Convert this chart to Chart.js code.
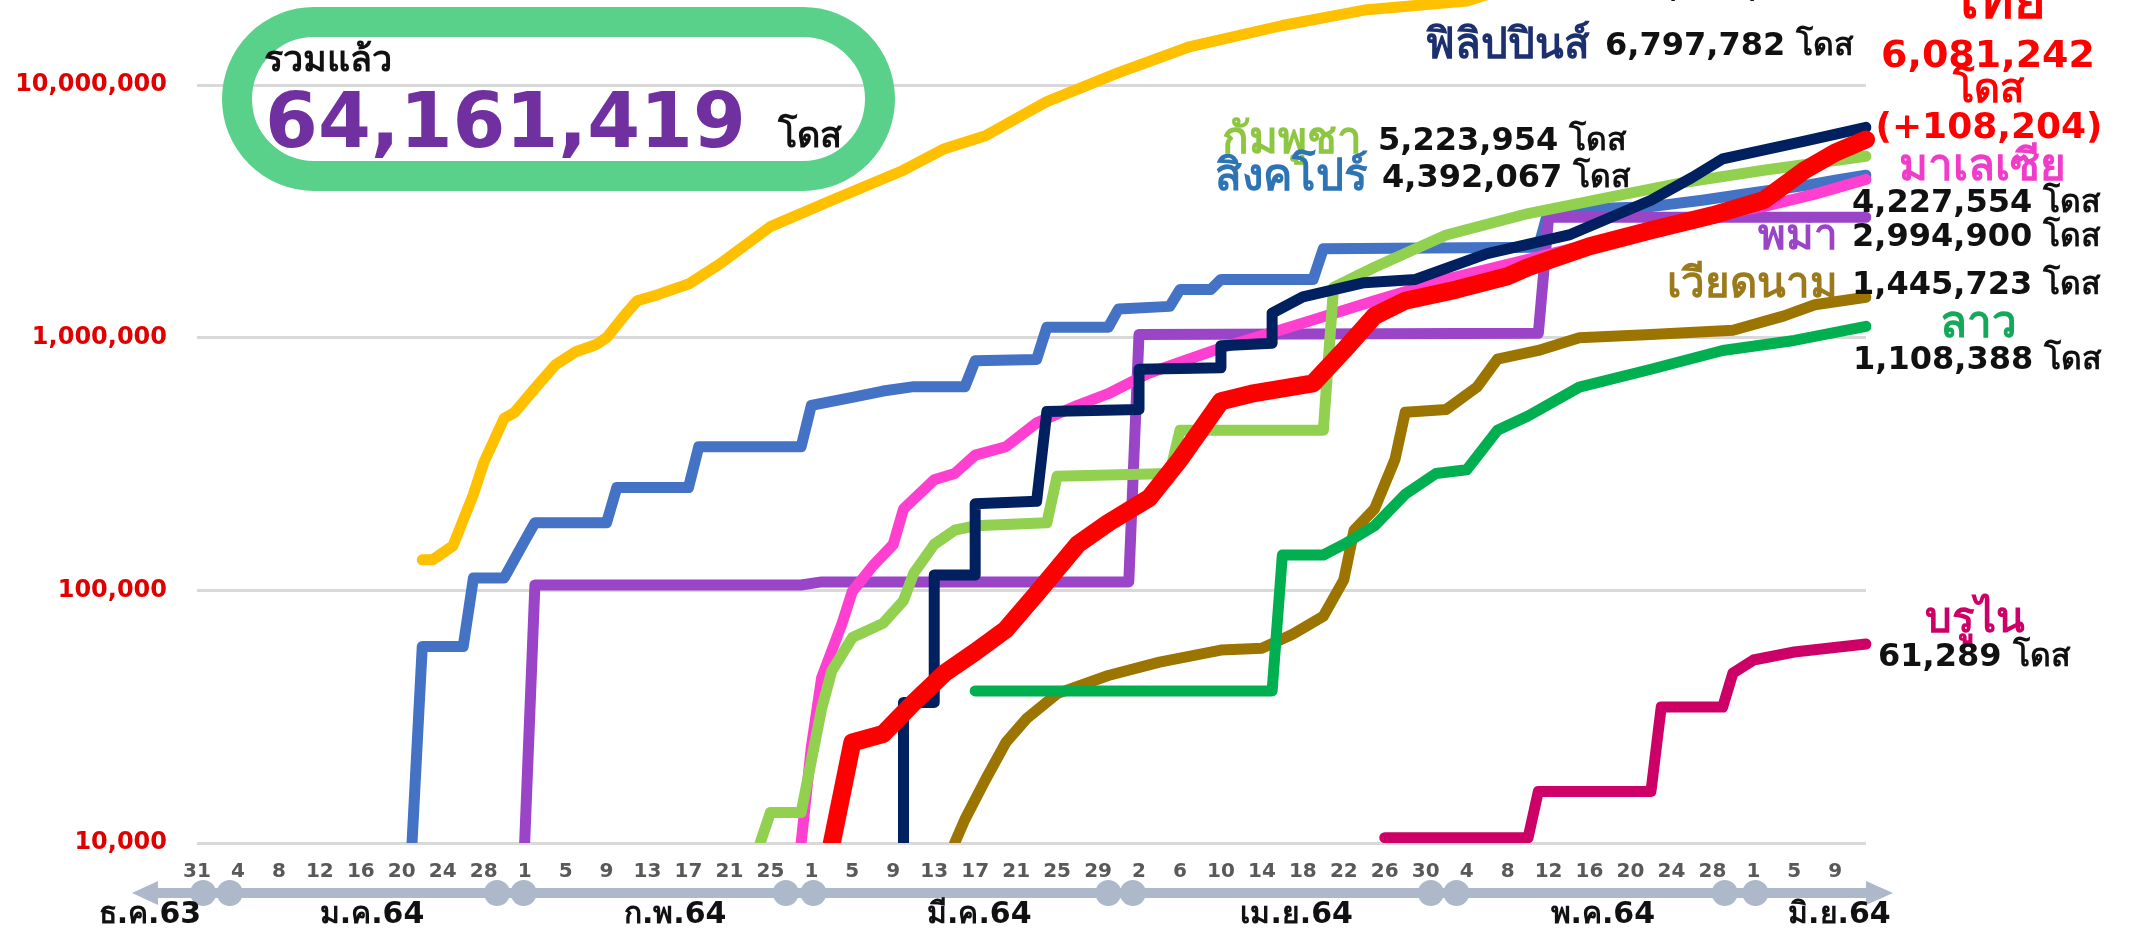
<!DOCTYPE html>
<html>
<head>
<meta charset="utf-8">
<script src="https://cdn.jsdelivr.net/npm/chart.js@4.4.0/dist/chart.umd.min.js"></script>
<style>
  html, body { margin: 0; padding: 0; background: #fff; }
  canvas { display: block; }
</style>
</head>
<body>
<canvas id="myChart" width="2129" height="930"></canvas>
<script>
// daily categories, 31 Dec 2020 .. 12 Jun 2021
const categories = [];
for (let d = new Date(2020, 11, 31); d <= new Date(2021, 5, 12); d.setDate(d.getDate() + 1)) {
  categories.push((d.getMonth() + 1) + "/" + d.getDate());
}
const tickLabels = ["31", "4", "8", "12", "16", "20", "24", "28",
  "1", "5", "9", "13", "17", "21", "25",
  "1", "5", "9", "13", "17", "21", "25", "29",
  "2", "6", "10", "14", "18", "22", "26", "30",
  "4", "8", "12", "16", "20", "24", "28",
  "1", "5", "9"];
const monthLabels = ["ธ.ค.63", "ม.ค.64", "ก.พ.64", "มี.ค.64", "เม.ย.64", "พ.ค.64", "มิ.ย.64"];
const yTicks = [10000, 100000, 1000000, 10000000];

// cumulative doses
const indonesiaDates = ["1/22","1/23","1/25","1/27","1/28","1/30","1/31","2/2","2/4","2/6","2/8","2/9","2/11","2/12","2/14","2/17","2/20","2/25","3/3","3/10","3/14","3/18","3/24","3/31","4/7","4/16","4/24","5/4","5/7","5/20","6/12"];
const indonesiaVals = [132000,132000,150000,240000,320000,480000,505000,630000,780000,880000,940000,1000000,1260000,1400000,1480000,1630000,1950000,2750000,3500000,4600000,5600000,6300000,8600000,11200000,14200000,17200000,19800000,21500000,23500000,27000000,31828520];

const singaporeDates = ["1/21","1/22","1/26","1/27","1/30","2/1","2/2","2/9","2/10","2/17","2/18","2/28","3/1","3/3","3/5","3/8","3/11","3/16","3/17","3/23","3/24","3/30","3/31","4/5","4/6","4/9","4/10","4/19","4/20","5/11","5/12","5/22","5/27","6/1","6/6","6/9","6/12"];
const singaporeVals = [10000,60000,60000,112000,112000,157000,185000,185000,255000,255000,370000,370000,540000,560000,580000,615000,640000,640000,810000,820000,1100000,1100000,1300000,1330000,1550000,1550000,1700000,1700000,2250000,2280000,3200000,3300000,3500000,3750000,4000000,4200000,4392067];

const myanmarDates = ["2/1","2/2","2/28","3/2","4/1","4/2","5/11","5/12","6/12"];
const myanmarVals = [10000,105000,105000,108000,108000,1030000,1040000,2994900,2994900];

const cambodiaDates = ["2/24","2/25","2/28","3/2","3/3","3/5","3/8","3/10","3/11","3/13","3/15","3/17","3/24","3/25","4/5","4/6","4/20","4/21","4/25","5/2","5/10","5/18","5/25","6/2","6/12"];
const cambodiaVals = [10000,13200,13200,34000,48000,65000,74000,91000,117000,152000,173000,180000,185000,283000,290000,430000,430000,1580000,1900000,2550000,3100000,3600000,4100000,4600000,5223954];

const malaysiaDates = ["2/28","3/1","3/2","3/4","3/5","3/7","3/9","3/10","3/13","3/15","3/17","3/20","3/23","3/27","3/30","4/3","4/10","4/17","4/25","5/2","5/10","5/18","5/25","6/2","6/7","6/12"];
const malaysiaVals = [10000,24000,45000,74000,99000,125000,152000,210000,274000,290000,343000,370000,460000,540000,600000,725000,910000,1110000,1400000,1700000,2040000,2450000,2900000,3300000,3700000,4227554];

// the Philippines line jumps straight up on delivery days, so some dates appear twice
const philippinesDates = ["3/10","3/10","3/13","3/13","3/17","3/17","3/23","3/24","4/2","4/2","4/10","4/10","4/15","4/15","4/18","4/24","4/29","5/6","5/14","5/22","5/26","5/29","6/6","6/12"];
const philippinesVals = [10000,36000,36000,115000,115000,220000,225000,510000,520000,750000,760000,930000,950000,1250000,1450000,1650000,1700000,2150000,2550000,3500000,4300000,5100000,6000000,6797782];

const thailandDates = ["3/3","3/5","3/8","3/11","3/14","3/17","3/20","3/23","3/27","3/30","4/3","4/6","4/10","4/13","4/19","4/22","4/25","4/28","5/3","5/8","5/10","5/16","5/22","5/28","6/2","6/6","6/9","6/12"];
const thailandVals = [10000,25000,27000,36000,47000,57000,70000,97000,152000,185000,232000,330000,560000,600000,660000,890000,1220000,1400000,1550000,1750000,1900000,2300000,2660000,3050000,3500000,4600000,5400000,6081242];
const thailandDailyIncrease = 108204;

const vietnamDates = ["3/15","3/16","3/18","3/20","3/22","3/25","3/30","4/4","4/10","4/14","4/17","4/20","4/22","4/23","4/25","4/27","4/28","5/2","5/5","5/7","5/11","5/15","5/22","5/30","6/4","6/7","6/12"];
const vietnamVals = [10000,12400,17800,25000,31000,39000,46000,52000,58000,59000,67000,79000,110000,173000,210000,330000,507000,520000,637000,822000,890000,1000000,1030000,1070000,1220000,1350000,1445723];

const laosDates = ["3/17","4/15","4/16","4/20","4/22","4/25","4/28","5/1","5/4","5/7","5/10","5/15","5/22","5/29","6/5","6/12"];
const laosVals = [40000,40000,138000,138000,152000,180000,240000,290000,300000,430000,490000,637000,750000,890000,975000,1108388];

const bruneiDates = ["4/26","5/10","5/11","5/22","5/23","5/29","5/30","6/1","6/5","6/12"];
const bruneiVals = [10500,10500,16000,16000,34500,34500,47000,53000,57000,61289];

const FONT = '"DejaVu Sans", "Noto Sans", sans-serif';

function series(dates, vals) {
  return dates.map((d, i) => ({ x: d, y: vals[i] }));
}
function line(label, dates, vals, color, width) {
  return {
    label: label,
    data: series(dates, vals),
    borderColor: color,
    backgroundColor: color,
    borderWidth: width,
    pointRadius: 0,
    tension: 0,
    borderJoinStyle: "round",
    borderCapStyle: "round",
  };
}
const last = (arr) => arr[arr.length - 1];
const fmt = (n) => n.toLocaleString("en-US");

const totals = [indonesiaVals, singaporeVals, myanmarVals, cambodiaVals, malaysiaVals,
  philippinesVals, thailandVals, vietnamVals, laosVals, bruneiVals].map(last);
const grandTotal = totals.reduce((a, b) => a + b, 0);

function txt(ctx, s, x, y, size, color, align) {
  ctx.font = "bold " + size + "px " + FONT;
  ctx.fillStyle = color;
  ctx.textAlign = align || "left";
  ctx.textBaseline = "middle";
  ctx.fillText(s, x, y);
}

const overlay = {
  id: "overlay",
  beforeDraw(chart) {
    const ctx = chart.ctx;
    ctx.save();
    ctx.fillStyle = "#fff";
    ctx.fillRect(0, 0, chart.width, chart.height);
    ctx.restore();
  },
  afterDraw(chart) {
    const ctx = chart.ctx;
    const xs = chart.scales.x;
    ctx.save();

    // timeline arrow under the ticks
    const ay = 893;
    ctx.fillStyle = "#adb9ca";
    ctx.fillRect(150, ay - 5, 1720, 10);
    ctx.beginPath();
    ctx.moveTo(132, ay); ctx.lineTo(158, ay - 12); ctx.lineTo(158, ay + 12); ctx.closePath();
    ctx.fill();
    ctx.beginPath();
    ctx.moveTo(1893, ay); ctx.lineTo(1866, ay - 12); ctx.lineTo(1866, ay + 12); ctx.closePath();
    ctx.fill();
    [[0.6, 3.2], [29.3, 31.9], [57.5, 60.2], [89, 91.4], [120.5, 123], [149.2, 152.2]].forEach((pair) => {
      pair.forEach((p) => {
        ctx.beginPath();
        ctx.arc(xs.getPixelForValue(p), ay, 13, 0, Math.PI * 2);
        ctx.fill();
      });
    });
    const monthAt = [-4.6, 17.1, 46.7, 76.4, 107.4, 137.3, 160.4];
    monthLabels.forEach((m, i) => {
      txt(ctx, m, xs.getPixelForValue(monthAt[i]), 915, 30, "#111", "center");
    });

    // total box
    ctx.strokeStyle = "#5ad18b";
    ctx.lineWidth = 30;
    const bx = 237, by = 22, bw = 643, bh = 154, r = 77;
    ctx.beginPath();
    ctx.moveTo(bx + r, by);
    ctx.lineTo(bx + bw - r, by);
    ctx.arc(bx + bw - r, by + r, r, -Math.PI / 2, Math.PI / 2);
    ctx.lineTo(bx + r, by + bh);
    ctx.arc(bx + r, by + r, r, Math.PI / 2, Math.PI * 1.5);
    ctx.closePath();
    ctx.stroke();
    txt(ctx, "รวมแล้ว", 264, 62, 36, "#111");
    txt(ctx, fmt(grandTotal), 265, 127, 76, "#7030a0");
    txt(ctx, "โดส", 778, 138, 36, "#111");

    // country labels
    const num = "#111";
    txt(ctx, "อินโดนีเซีย", 1610, -12, 42, "#ffc000", "right");
    txt(ctx, fmt(last(indonesiaVals)) + " โดส", 1625, -12, 32, num);
    txt(ctx, "ฟิลิปปินส์", 1590, 47, 42, "#1c2f6e", "right");
    txt(ctx, fmt(last(philippinesVals)) + " โดส", 1605, 47, 32, num);
    txt(ctx, "ไทย", 1998, 4, 54, "#ff0000", "center");
    txt(ctx, fmt(last(thailandVals)), 1988, 57, 38, "#ff0000", "center");
    txt(ctx, "โดส", 1988, 92, 40, "#ff0000", "center");
    txt(ctx, "(+" + fmt(thailandDailyIncrease) + ")", 1989, 129, 36, "#ff0000", "center");
    txt(ctx, "มาเลเซีย", 1982, 169, 44, "#f03cc8", "center");
    txt(ctx, fmt(last(malaysiaVals)) + " โดส", 1852, 204, 32, num);
    txt(ctx, "พม่า", 1838, 238, 42, "#9a45c8", "right");
    txt(ctx, fmt(last(myanmarVals)) + " โดส", 1852, 238, 32, num);
    txt(ctx, "เวียดนาม", 1838, 286, 42, "#9a7a1a", "right");
    txt(ctx, fmt(last(vietnamVals)) + " โดส", 1852, 286, 32, num);
    txt(ctx, "ลาว", 1978, 326, 44, "#14a85a", "center");
    txt(ctx, fmt(last(laosVals)) + " โดส", 1853, 361, 32, num);
    txt(ctx, "กัมพูชา", 1362, 142, 44, "#8dc640", "right");
    txt(ctx, fmt(last(cambodiaVals)) + " โดส", 1378, 142, 32, num);
    txt(ctx, "สิงคโปร์", 1368, 179, 44, "#2e74b5", "right");
    txt(ctx, fmt(last(singaporeVals)) + " โดส", 1382, 179, 32, num);
    txt(ctx, "บรูไน", 1975, 621, 42, "#cc0066", "center");
    txt(ctx, fmt(last(bruneiVals)) + " โดส", 1878, 658, 32, num);

    ctx.restore();
  },
};

const ctx = document.getElementById("myChart").getContext("2d");
const myChart = new Chart(ctx, {
  type: "line",
  data: {
    labels: categories,
    datasets: [
      line("ไทย", thailandDates, thailandVals, "#ff0000", 18),
      line("บรูไน", bruneiDates, bruneiVals, "#cc0066", 11),
      line("ลาว", laosDates, laosVals, "#00b050", 11),
      line("เวียดนาม", vietnamDates, vietnamVals, "#9c7400", 11),
      line("ฟิลิปปินส์", philippinesDates, philippinesVals, "#002060", 11),
      line("กัมพูชา", cambodiaDates, cambodiaVals, "#92d050", 11),
      line("มาเลเซีย", malaysiaDates, malaysiaVals, "#ff3fd0", 11),
      line("พม่า", myanmarDates, myanmarVals, "#9a45c8", 11),
      line("สิงคโปร์", singaporeDates, singaporeVals, "#4472c4", 11),
      line("อินโดนีเซีย", indonesiaDates, indonesiaVals, "#ffc000", 11),
    ],
  },
  options: {
    responsive: false,
    animation: false,
    devicePixelRatio: 1,
    layout: { padding: { left: 0, right: 263, top: 0, bottom: 0 } },
    plugins: {
      legend: { display: false },
      tooltip: { enabled: false },
    },
    scales: {
      x: {
        type: "category",
        offset: false,
        grid: { display: false, drawTicks: false },
        border: { display: false },
        afterFit: (scale) => {
          scale.height = 87;
          scale.paddingLeft = 0;
          scale.paddingRight = 0;
        },
        ticks: {
          autoSkip: false,
          maxRotation: 0,
          padding: 17,
          color: "#595959",
          font: { family: FONT, size: 20, weight: "bold" },
          callback: (val, i) => (i % 4 === 0 ? tickLabels[i / 4] : ""),
        },
      },
      y: {
        type: "logarithmic",
        min: 10000,
        max: 21700000,
        grid: { color: "#d9d9d9", lineWidth: 3, drawTicks: false },
        border: { display: false },
        afterFit: (scale) => {
          scale.width = 197;
          scale.paddingTop = 0;
          scale.paddingBottom = 0;
        },
        afterBuildTicks: (scale) => { scale.ticks = yTicks.map((v) => ({ value: v })); },
        ticks: {
          padding: 30,
          color: "#e00000",
          font: { family: FONT, size: 24, weight: "bold" },
          callback: (v) => fmt(v),
        },
      },
    },
  },
  plugins: [overlay],
});
</script>
</body>
</html>
